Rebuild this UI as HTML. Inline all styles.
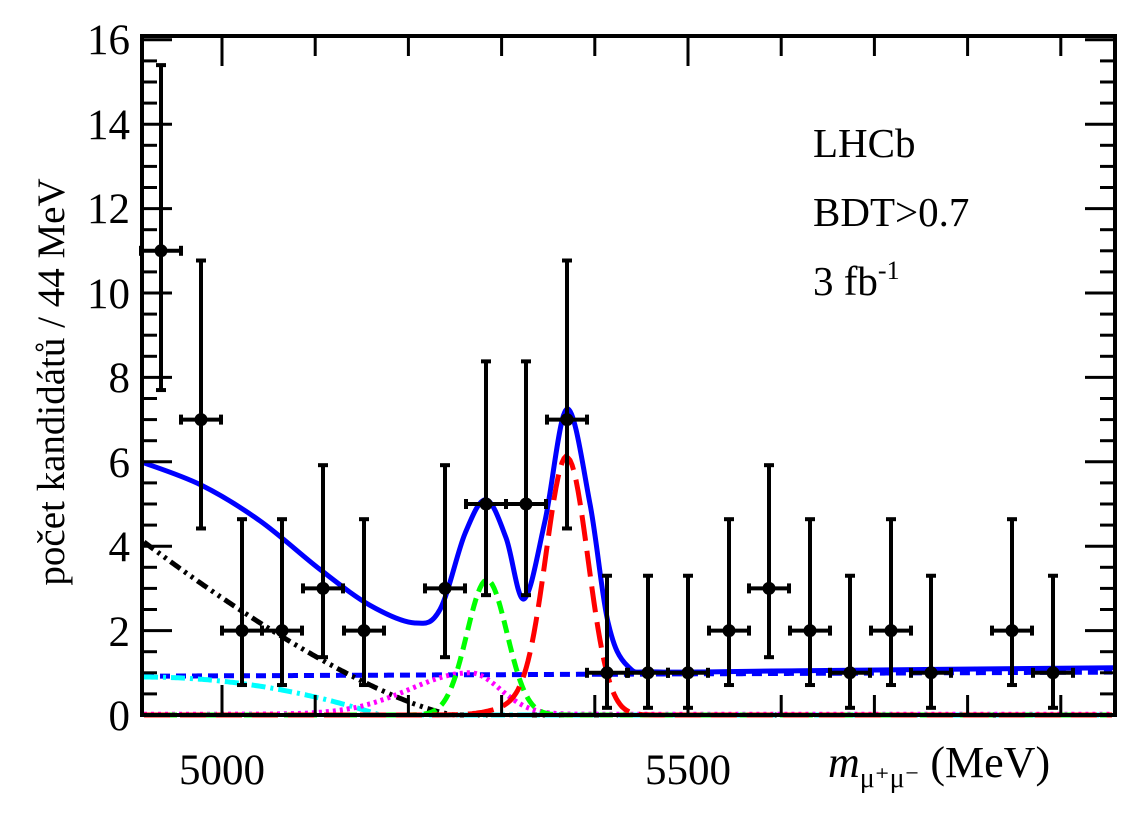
<!DOCTYPE html>
<html><head><meta charset="utf-8"><style>
html,body{margin:0;padding:0;background:#fff;}
svg{display:block;}
text,tspan{font-family:"Liberation Serif","Times New Roman",Times,"DejaVu Serif","Noto Serif CJK SC",serif;}
</style></head><body>
<svg id="s" width="1140" height="815" viewBox="0 0 1140 815" xmlns="http://www.w3.org/2000/svg">
<rect width="1140" height="815" fill="#fff"/>
<g id="curves"></g>
<g id="pts"></g>
<rect x="142" y="36" width="973" height="679" fill="none" stroke="#000" stroke-width="4"/>
<g id="ticks" stroke="#000" stroke-width="3"></g>
<g font-size="43" text-anchor="end" fill="#000">
<text x="130" y="730">0</text><text x="130" y="646">2</text><text x="130" y="561">4</text>
<text x="130" y="477">6</text><text x="130" y="392">8</text><text x="130" y="308">10</text>
<text x="130" y="223">12</text><text x="130" y="139">14</text><text x="130" y="54">16</text>
</g>
<g font-size="43" text-anchor="middle"><text x="222" y="784">5000</text><text x="688" y="784">5500</text></g>
<text transform="translate(64,382) rotate(-90)" font-size="39" text-anchor="middle">počet kandidátů / 44 MeV</text>
<g font-size="41"><text x="813" y="157">LHCb</text><text x="813" y="226">BDT&gt;0.7</text>
<text x="813" y="295">3 fb<tspan font-size="26" dy="-16">-1</tspan></text></g>
<text x="828" y="777" font-size="44"><tspan font-style="italic">m</tspan><tspan font-size="28" dy="10">μ⁺μ⁻</tspan><tspan dy="-10"> (MeV)</tspan></text>
</svg>
<script>
var NS="http://www.w3.org/2000/svg",Y0=715,K=42.2;
function Y(v){return Y0-v*K;}
function el(p,t,a){var e=document.createElementNS(NS,t);for(var k in a)e.setAttribute(k,a[k]);p.appendChild(e);return e;}
var tk=document.getElementById('ticks');
for(var v=0;v<=16;v+=0.5){var L=(v%2==0)?30:15;el(tk,'line',{x1:142,x2:142+L,y1:Y(v),y2:Y(v)});el(tk,'line',{x1:1115,x2:1115-L,y1:Y(v),y2:Y(v)});}
for(var m=4950;m<=5950;m+=50){var x=222+(m-5000)*0.932;if(x<144||x>1113)continue;var L=(m%500==0)?30:((m%100==0)?20:0);if(!L)continue;el(tk,'line',{x1:x,x2:x,y1:715,y2:715-L});el(tk,'line',{x1:x,x2:x,y1:36,y2:36+L});}
var cg=document.getElementById('curves');
function path(f,a){var d="";for(var x=144;x<=1113;x+=2){d+=(x==144?"M":"L")+x+","+Y(f(x)).toFixed(1);}a.d=d;a.fill="none";el(cg,'path',a);}
function g(x,m,s){return Math.exp(-0.5*(x-m)*(x-m)/(s*s));}
path(function(x){return 0.92+0.0001*(x-144);},{stroke:"#00f","stroke-width":5,"stroke-dasharray":"10,6"});
path(function(x){return x<455?4.1*Math.pow((455-x)/311,1.35):0;},{stroke:"#000","stroke-width":5,"stroke-dasharray":"12,5,3,5,3,5"});
path(function(x){return x<380?0.9*(1-Math.pow((x-144)/236,2)):0;},{stroke:"#0ff","stroke-width":5,"stroke-dasharray":"14,5,3,5"});
path(function(x){return 0.02+0.98*(x<470?g(x,470,60):g(x,470,30));},{stroke:"#f0f","stroke-width":5,"stroke-dasharray":"3,4"});
path(function(x){return 3.2*g(x,487,20);},{stroke:"#0f0","stroke-width":5,"stroke-dasharray":"13,7"});
path(function(x){return 6.1*g(x,567,21)+(x<567?0.2*g(x,520,25):0);},{stroke:"#f00","stroke-width":5,"stroke-dasharray":"26,10"});
var P=[[141,6.0],[201,5.45],[260,4.6],[320,3.45],[370,2.6],[415,2.18],[440,2.5],[465,4.3],[486,5.1],[506,4.2],[524,2.75],[545,4.6],[567,7.25],[590,5.0],[608,2.2],[628,1.15],[660,1.02],[800,1.05],[1116,1.12]];
var d="M"+P[0][0]+","+Y(P[0][1]);
for(var i=0;i<P.length-1;i++){var p0=P[Math.max(i-1,0)],p1=P[i],p2=P[i+1],p3=P[Math.min(i+2,P.length-1)];
var c1x=p1[0]+(p2[0]-p0[0])/6,c1y=Y(p1[1])+(Y(p2[1])-Y(p0[1]))/6,c2x=p2[0]-(p3[0]-p1[0])/6,c2y=Y(p2[1])-(Y(p3[1])-Y(p1[1]))/6;
d+=" C"+c1x+","+c1y+" "+c2x+","+c2y+" "+p2[0]+","+Y(p2[1]);}
el(cg,'path',{d:d,fill:"none",stroke:"#00f","stroke-width":5});
var pg=document.getElementById('pts');
var xs=[161,201,242,282,323,364,445,486,526,567,607,648,688,729,769,810,850,891,931,1012,1053];
var ns=[11,7,2,2,3,2,3,5,5,7,1,1,1,2,3,2,1,2,1,2,1];
var up={1:3.30,2:4.64,3:5.92,5:8.38,7:10.77,11:15.4},lo={1:0.17,2:0.71,3:1.37,5:2.84,7:4.42,11:7.7};
for(var i=0;i<xs.length;i++){var x=xs[i],n=ns[i];
el(pg,'line',{x1:x,x2:x,y1:Y(up[n]),y2:Y(lo[n]),stroke:"#000","stroke-width":4});
el(pg,'line',{x1:x-5,x2:x+5,y1:Y(up[n]),y2:Y(up[n]),stroke:"#000","stroke-width":4});
el(pg,'line',{x1:x-5,x2:x+5,y1:Y(lo[n]),y2:Y(lo[n]),stroke:"#000","stroke-width":4});
el(pg,'line',{x1:x-20,x2:x+20,y1:Y(n),y2:Y(n),stroke:"#000","stroke-width":4});
el(pg,'line',{x1:x-20,x2:x-20,y1:Y(n)-5,y2:Y(n)+5,stroke:"#000","stroke-width":4});
el(pg,'line',{x1:x+20,x2:x+20,y1:Y(n)-5,y2:Y(n)+5,stroke:"#000","stroke-width":4});
el(pg,'circle',{cx:x,cy:Y(n),r:6.5,fill:"#000"});}
</script>
</body></html>
